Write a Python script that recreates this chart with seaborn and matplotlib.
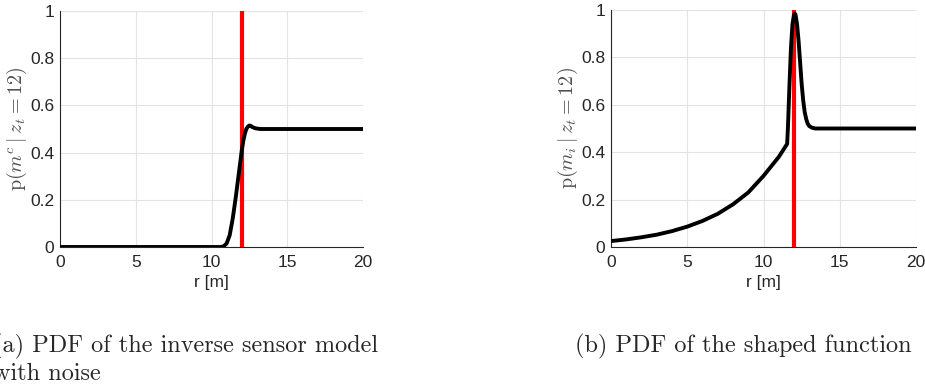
import seaborn as sns
import matplotlib.pyplot as plt
import pandas as pd

# (a) inverse sensor model with noise
r_a = [0, 2, 4, 6, 8, 10, 10.6, 10.8, 11.0, 11.2, 11.4, 11.6, 11.8, 12.0, 12.1,
       12.2, 12.3, 12.4, 12.5, 12.6, 12.7, 12.9, 13.2, 14, 16, 18, 20]
p_a = [0, 0, 0, 0, 0, 0, 0, 0.003, 0.015, 0.05, 0.12, 0.21, 0.31, 0.41, 0.45,
       0.48, 0.50, 0.51, 0.515, 0.513, 0.508, 0.503, 0.5, 0.5, 0.5, 0.5, 0.5]

# (b) shaped function
r_b = [0, 1, 2, 3, 4, 5, 6, 7, 8, 9, 10, 10.5, 11, 11.3, 11.55, 11.6, 11.7, 11.8,
       11.9, 12.0, 12.05, 12.1, 12.2, 12.3, 12.4, 12.5, 12.6, 12.7, 12.8, 12.9,
       13.0, 13.2, 13.4, 15, 17.5, 20]
p_b = [0.025, 0.032, 0.041, 0.052, 0.067, 0.086, 0.11, 0.14, 0.18, 0.23, 0.30,
       0.34, 0.38, 0.41, 0.435, 0.50, 0.68, 0.84, 0.94, 0.98, 0.985, 0.98, 0.94,
       0.87, 0.78, 0.69, 0.62, 0.57, 0.54, 0.52, 0.51, 0.503, 0.5, 0.5, 0.5, 0.5]

z_t = 12
x_ticks = [0, 5, 10, 15, 20]
y_ticks = [0, 0.2, 0.4, 0.6, 0.8, 1]
y_tick_labels = ['0', '0.2', '0.4', '0.6', '0.8', '1']
ylabels = [r'$\mathrm{p}(m^c \mid z_t = 12)$', r'$\mathrm{p}(m_i \mid z_t = 12)$']
caption_a = ['(a) PDF of the inverse sensor model', 'with noise']
caption_b = '(b) PDF of the shaped function'

sns.set_style('white')
plt.rcParams['font.family'] = ['Liberation Sans', 'DejaVu Sans']
plt.rcParams['mathtext.fontset'] = 'cm'

fig = plt.figure(figsize=(9.25, 3.85), dpi=100)
ax_a = fig.add_axes([60 / 925, 138 / 385, 303 / 925, 236 / 385])
ax_b = fig.add_axes([611 / 925, 138 / 385, 305 / 925, 237 / 385])

data = [pd.DataFrame({'r': r_a, 'p': p_a}), pd.DataFrame({'r': r_b, 'p': p_b})]

for ax, df, ylab in zip([ax_a, ax_b], data, ylabels):
    ax.axvline(z_t, color='#ff0000', lw=3.0, zorder=2)
    sns.lineplot(data=df, x='r', y='p', ax=ax, color='black', lw=2.8, zorder=3)
    ax.set_xlim(0, 20)
    ax.set_ylim(0, 1)
    ax.set_xticks(x_ticks)
    ax.set_yticks(y_ticks)
    ax.set_yticklabels(y_tick_labels)
    ax.grid(True, color='#e3e3e3', lw=0.8)
    ax.set_axisbelow(True)
    for s in ['top', 'right']:
        ax.spines[s].set_visible(False)
    for s in ['left', 'bottom']:
        ax.spines[s].set_color('#262626')
        ax.spines[s].set_linewidth(0.8)
    ax.tick_params(direction='in', length=3, labelsize=12.5, colors='#262626')
    ax.tick_params(axis='x', pad=6)
    ax.tick_params(axis='y', pad=4)
    ax.set_xlabel('r [m]', fontsize=12.5, color='#262626', labelpad=3)
    ax.set_ylabel(ylab, fontsize=14.5, color='#505050', labelpad=1)

fig.text(-7 / 925, 1 - 352 / 385, caption_a[0], family='cmr10', fontsize=17.5,
         ha='left', va='baseline')
fig.text(-7 / 925, 1 - 380 / 385, caption_a[1], family='cmr10', fontsize=17.5,
         ha='left', va='baseline')
fig.text(575 / 925, 1 - 352 / 385, caption_b, family='cmr10', fontsize=17.5,
         ha='left', va='baseline')

fig.savefig('out.png', dpi=100)
